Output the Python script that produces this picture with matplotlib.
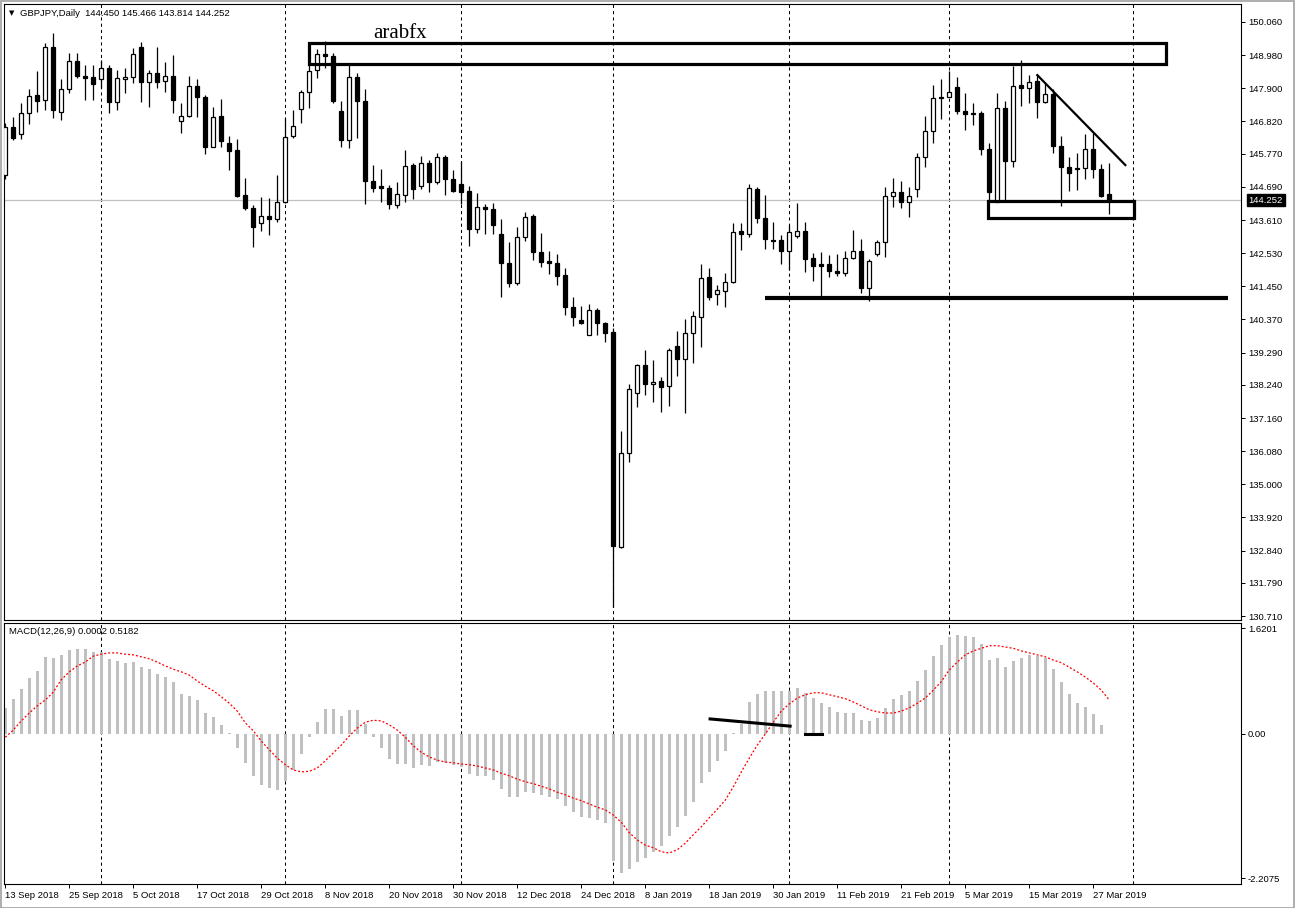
import matplotlib
matplotlib.use("Agg")
import matplotlib.pyplot as plt
from matplotlib.patches import Rectangle
from matplotlib.transforms import blended_transform_factory
import numpy as np

plt.rcParams['font.family'] = ['Liberation Sans', 'DejaVu Sans']

# ---------------- data ----------------
symbol = "GBPJPY,Daily"

opens = [145.08, 146.64, 146.41, 147.10, 147.68, 147.52, 149.25, 147.13, 147.88, 148.79,
         148.30, 148.27, 148.20, 148.56, 147.46, 148.20, 148.27, 149.25, 148.11, 148.40,
         148.14, 148.30, 146.84, 147.00, 147.98, 147.62, 145.99, 147.00, 146.12, 145.89,
         144.43, 144.00, 143.51, 143.74, 143.64, 144.20, 146.35, 147.23, 147.78, 148.50,
         149.02, 148.95, 147.16, 146.22, 148.27, 147.49, 144.88, 144.72, 144.65, 144.10,
         144.43, 145.40, 144.72, 145.47, 144.85, 145.66, 144.95, 144.78, 144.56, 143.32,
         144.04, 143.97, 143.16, 142.21, 141.56, 143.06, 143.74, 142.57, 142.28, 142.21,
         141.82, 140.78, 140.35, 139.87, 140.68, 140.25, 139.97, 132.96, 136.02, 137.98,
         138.89, 138.27, 138.37, 138.20, 139.51, 139.09, 139.94, 140.45, 141.76, 141.20,
         141.30, 141.59, 143.25, 143.16, 144.62, 143.67, 142.96, 142.96, 142.61, 143.09,
         143.25, 142.37, 142.18, 142.18, 141.95, 141.88, 142.37, 142.61, 141.40, 142.51,
         142.90, 144.39, 144.52, 144.20, 144.62, 145.66, 146.51, 147.62, 147.62, 147.94,
         147.16, 147.10, 147.10, 145.92, 144.20, 147.26, 145.53, 148.01, 147.91, 148.14,
         147.46, 147.71, 146.02, 145.34, 145.30, 145.30, 145.92, 145.27, 144.450]

highs = [146.77, 146.97, 147.42, 147.88, 148.47, 149.38, 149.70, 148.20, 149.05, 149.05,
         148.66, 148.66, 148.82, 148.66, 148.50, 148.56, 149.21, 149.41, 148.50, 149.25,
         148.76, 148.99, 147.42, 148.30, 148.20, 147.68, 147.29, 147.55, 146.35, 146.25,
         144.98, 144.10, 144.36, 144.33, 145.08, 146.93, 147.19, 147.85, 148.72, 149.18,
         149.44, 149.05, 147.49, 148.66, 148.40, 147.88, 145.40, 145.27, 144.75, 144.85,
         145.89, 145.47, 145.69, 145.57, 145.79, 145.73, 145.24, 145.53, 144.72, 144.49,
         144.13, 144.17, 143.64, 142.90, 143.38, 143.87, 143.80, 143.19, 142.61, 142.51,
         142.05, 141.10, 140.81, 140.88, 140.75, 140.29, 140.10, 136.74, 138.27, 138.92,
         139.38, 139.05, 138.50, 139.44, 139.99, 140.39, 140.65, 142.18, 142.05, 141.49,
         141.87, 143.51, 143.51, 144.78, 144.69, 144.43, 143.54, 143.12, 143.45, 144.17,
         143.54, 142.54, 142.57, 142.47, 142.51, 142.61, 143.29, 142.98, 142.34, 142.96,
         144.69, 144.98, 144.88, 144.69, 145.79, 147.00, 148.01, 148.20, 148.46, 148.27,
         147.75, 147.42, 147.16, 146.12, 147.75, 147.49, 148.63, 148.82, 148.33, 148.33,
         148.07, 147.88, 146.35, 145.66, 145.79, 146.41, 146.45, 145.43, 145.466]

lows = [144.95, 146.22, 146.25, 146.74, 147.13, 147.19, 146.93, 146.87, 147.75, 148.24,
        147.52, 147.52, 147.91, 147.10, 147.19, 147.75, 148.07, 147.46, 147.29, 147.91,
        147.78, 147.10, 146.44, 146.97, 146.97, 145.76, 145.99, 145.99, 145.24, 144.36,
        143.94, 142.73, 143.25, 143.12, 143.54, 144.17, 146.28, 146.77, 147.26, 148.24,
        148.56, 147.42, 145.99, 145.95, 146.28, 144.13, 144.52, 144.20, 143.97, 144.00,
        144.20, 144.30, 144.62, 144.52, 144.78, 144.43, 144.52, 144.13, 142.76, 143.19,
        143.16, 143.16, 141.10, 141.43, 141.50, 142.93, 142.31, 142.08, 141.84, 141.49,
        140.52, 140.16, 140.23, 139.87, 139.87, 139.64, 131.01, 132.93, 135.73, 137.52,
        137.91, 137.68, 137.36, 137.55, 138.53, 137.33, 138.96, 139.48, 141.01, 140.84,
        140.78, 141.56, 142.63, 143.06, 143.51, 142.67, 142.67, 142.18, 141.98, 143.03,
        141.92, 141.62, 141.10, 141.75, 141.79, 141.79, 142.34, 141.23, 140.97, 142.44,
        142.41, 144.04, 144.00, 143.71, 144.36, 145.34, 146.12, 146.90, 147.62, 147.06,
        146.54, 146.71, 145.73, 144.20, 144.20, 144.20, 145.34, 147.32, 147.42, 146.93,
        147.42, 145.79, 144.07, 144.56, 144.59, 144.95, 144.98, 144.36, 143.814]

closes = [146.64, 146.28, 147.10, 147.65, 147.49, 149.25, 147.19, 147.88, 148.79, 148.30,
          148.24, 148.04, 148.56, 147.46, 148.24, 148.27, 149.02, 148.11, 148.40, 148.11,
          148.30, 147.52, 147.00, 147.98, 147.62, 145.99, 146.97, 146.18, 145.86, 144.39,
          144.00, 143.38, 143.74, 143.64, 144.20, 146.32, 146.67, 147.78, 148.46, 149.02,
          148.95, 147.49, 146.22, 148.27, 147.49, 144.88, 144.65, 144.65, 144.13, 144.46,
          145.37, 144.62, 145.47, 144.85, 145.66, 144.95, 144.56, 144.52, 143.32, 144.04,
          143.97, 143.45, 142.21, 141.56, 143.06, 143.71, 142.57, 142.24, 142.21, 141.79,
          140.78, 140.45, 140.25, 140.68, 140.25, 139.92, 132.99, 136.02, 138.11, 138.89,
          138.27, 138.33, 138.17, 139.38, 139.09, 139.94, 140.49, 141.71, 141.10, 141.33,
          141.59, 143.22, 143.16, 144.65, 143.67, 142.98, 142.93, 142.61, 143.22, 143.25,
          142.34, 142.11, 142.11, 141.95, 141.88, 142.37, 142.61, 141.40, 142.28, 142.90,
          144.39, 144.52, 144.20, 144.39, 145.66, 146.51, 147.58, 147.58, 147.78, 147.16,
          147.06, 147.06, 145.92, 144.52, 147.26, 145.53, 147.98, 147.91, 148.11, 147.46,
          147.71, 146.02, 145.34, 145.14, 145.27, 145.92, 145.27, 144.39, 144.252]

macd_hist = [0.40, 0.54, 0.69, 0.86, 0.96, 1.18, 1.16, 1.21, 1.28, 1.30,
             1.30, 1.26, 1.25, 1.15, 1.12, 1.09, 1.10, 1.02, 0.99, 0.92,
             0.87, 0.79, 0.61, 0.58, 0.52, 0.32, 0.26, 0.14, 0.02, -0.22,
             -0.45, -0.65, -0.78, -0.82, -0.85, -0.72, -0.55, -0.31, -0.05, 0.18,
             0.38, 0.38, 0.28, 0.37, 0.37, 0.15, -0.05, -0.21, -0.38, -0.46,
             -0.46, -0.52, -0.47, -0.49, -0.43, -0.44, -0.47, -0.50, -0.61, -0.64,
             -0.65, -0.70, -0.84, -0.97, -0.96, -0.88, -0.90, -0.94, -0.96, -0.99,
             -1.10, -1.19, -1.27, -1.28, -1.31, -1.36, -1.94, -2.13, -2.07, -1.95,
             -1.89, -1.80, -1.72, -1.56, -1.42, -1.25, -1.04, -0.75, -0.58, -0.41,
             -0.26, 0.01, 0.16, 0.49, 0.61, 0.66, 0.66, 0.66, 0.66, 0.70,
             0.62, 0.55, 0.48, 0.41, 0.34, 0.32, 0.32, 0.21, 0.20, 0.24,
             0.40, 0.54, 0.60, 0.66, 0.81, 0.98, 1.19, 1.36, 1.48, 1.51,
             1.50, 1.49, 1.37, 1.13, 1.16, 1.02, 1.12, 1.16, 1.21, 1.19,
             1.16, 1.00, 0.80, 0.61, 0.48, 0.41, 0.31, 0.14, 0.0002]

macd_signal = [-0.05, 0.06, 0.20, 0.32, 0.43, 0.52, 0.64, 0.83, 0.95, 1.04,
               1.10, 1.19, 1.22, 1.24, 1.24, 1.22, 1.21, 1.18, 1.15, 1.10,
               1.04, 0.99, 0.95, 0.90, 0.81, 0.73, 0.66, 0.57, 0.47, 0.35,
               0.17, 0.05, -0.11, -0.24, -0.37, -0.47, -0.55, -0.58, -0.57, -0.52,
               -0.41, -0.29, -0.17, -0.03, 0.09, 0.18, 0.21, 0.20, 0.14, 0.06,
               -0.05, -0.18, -0.28, -0.35, -0.40, -0.43, -0.44, -0.46, -0.47, -0.49,
               -0.52, -0.55, -0.60, -0.64, -0.69, -0.73, -0.76, -0.80, -0.84, -0.89,
               -0.93, -0.98, -1.02, -1.07, -1.12, -1.16, -1.24, -1.35, -1.51, -1.62,
               -1.70, -1.74, -1.80, -1.82, -1.77, -1.67, -1.54, -1.42, -1.28, -1.15,
               -1.01, -0.81, -0.58, -0.37, -0.17, 0.00, 0.18, 0.35, 0.46, 0.55,
               0.60, 0.63, 0.63, 0.60, 0.57, 0.54, 0.49, 0.43, 0.37, 0.34,
               0.32, 0.32, 0.35, 0.40, 0.47, 0.55, 0.67, 0.80, 0.98, 1.10,
               1.21, 1.27, 1.31, 1.35, 1.35, 1.33, 1.31, 1.27, 1.24, 1.21,
               1.18, 1.13, 1.09, 1.02, 0.95, 0.87, 0.78, 0.67, 0.5182]

date_labels = ["13 Sep 2018", "25 Sep 2018", "5 Oct 2018", "17 Oct 2018", "29 Oct 2018",
               "8 Nov 2018", "20 Nov 2018", "30 Nov 2018", "12 Dec 2018", "24 Dec 2018",
               "8 Jan 2019", "18 Jan 2019", "30 Jan 2019", "11 Feb 2019", "21 Feb 2019",
               "5 Mar 2019", "15 Mar 2019", "27 Mar 2019"]
date_label_bars = list(range(0, 8 * len(date_labels), 8))

price_ticks = [150.060, 148.980, 147.900, 146.820, 145.770, 144.690, 143.610, 142.530,
               141.450, 140.370, 139.290, 138.240, 137.160, 136.080, 135.000, 133.920,
               132.840, 131.790, 130.710]
macd_ticks = [1.6201, 0.00, -2.2075]
macd_tick_labels = ["1.6201", "0.00", "-2.2075"]
month_grid_bars = [12, 35, 57, 76, 98, 118, 141]

# hand-drawn objects (data units: bar index, price)
resistance_box = (37.96, 145.1, 148.69, 149.38)
support_box = (122.8, 141.1, 143.68, 144.23)
support_line = (94.96, 152.85, 141.07)
trend_line = ((129.0, 148.33), (140.0, 145.40))
macd_line1 = ((88.1, 0.23), (98.1, 0.12))
macd_line2 = ((100.0, 0.0), (102.1, 0.0))
watermark = "arabfx"

# ---------------- figure ----------------
W, H = 1295, 908
fig = plt.figure(figsize=(W / 100, H / 100), dpi=100)
fig.patch.set_facecolor('white')

L, R = 4, 1241
ax = fig.add_axes([L / W, 1 - 620 / H, (R - L) / W, 616 / H])
ax2 = fig.add_axes([L / W, 1 - 884 / H, (R - L) / W, 261 / H])

x = np.arange(len(opens))
o = np.array(opens)
c = np.array(closes)
hi = np.array(highs)
lo = np.array(lows)
up = c >= o

xlim = (-0.16, 154.46)

# grid
for gx in month_grid_bars:
    for a in (ax, ax2):
        a.axvline(gx, color='black', lw=0.75, ls=(0, (3, 3)), zorder=0.5)

# last price line
last_price = closes[-1]
ax.axhline(last_price, color='#c0c0c0', lw=0.9, zorder=1)

# candles
ax.vlines(x, lo, hi, color='black', lw=0.9, zorder=3)
body_bottom = np.minimum(o, c)
body_h = np.maximum(np.abs(c - o), 0.02)
ax.bar(x, body_h, bottom=body_bottom, width=0.5,
       color=np.where(up, 'white', 'black'), edgecolor='black', linewidth=0.9, zorder=4)

# drawings
x0, x1, y0, y1 = resistance_box
ax.add_patch(Rectangle((x0, y0), x1 - x0, y1 - y0, fill=False, ec='black', lw=2.3, zorder=6))
x0, x1, y0, y1 = support_box
ax.add_patch(Rectangle((x0, y0), x1 - x0, y1 - y0, fill=False, ec='black', lw=2.3, zorder=6))
ax.plot([support_line[0], support_line[1]], [support_line[2], support_line[2]],
        color='black', lw=3.0, solid_capstyle='butt', zorder=6)
ax.plot([trend_line[0][0], trend_line[1][0]], [trend_line[0][1], trend_line[1][1]],
        color='black', lw=1.6, zorder=6)
ax.text(49.3, 149.54, watermark, family=['Liberation Serif', 'DejaVu Serif'], fontsize=15,
        ha='center', va='baseline', color='black', zorder=7)

ax.set_xlim(*xlim)
ax.set_ylim(130.581, 150.646)
ax.set_xticks([])
ax.yaxis.tick_right()
ax.set_yticks(price_ticks)
ax.set_yticklabels([f"{t:.3f}" for t in price_ticks])
ax.tick_params(axis='y', direction='out', length=3, width=0.7, pad=2, labelsize=6.8,
               colors='black')
for s in ax.spines.values():
    s.set_color('black'); s.set_linewidth(0.8)

trans = blended_transform_factory(ax.transAxes, ax.transData)
ax.text(1.0062, last_price, f"{last_price:.3f}", transform=trans, ha='left', va='center',
        color='white', fontsize=6.8, zorder=10, clip_on=False,
        bbox=dict(boxstyle='square,pad=0.18', fc='black', ec='black'))

# header
fig.text(9 / W, 1 - 13 / H, "▼", fontsize=5, ha='left', va='center', color='black',
         family=['DejaVu Sans'])
fig.text(20 / W, 1 - 13 / H,
         f"{symbol}  {opens[-1]:.3f} {highs[-1]:.3f} {lows[-1]:.3f} {closes[-1]:.3f}",
         fontsize=6.8, ha='left', va='center', color='black')

# MACD panel
ax2.bar(x, macd_hist, width=0.4, color='#c0c0c0', zorder=2)
ax2.plot(x, macd_signal, color='red', ls=(0, (1.6, 1.6)), lw=0.9, zorder=3)
ax2.plot([macd_line1[0][0], macd_line1[1][0]], [macd_line1[0][1], macd_line1[1][1]],
         color='black', lw=2.2, zorder=5)
ax2.plot([macd_line2[0][0], macd_line2[1][0]], [macd_line2[0][1], macd_line2[1][1]],
         color='black', lw=2.2, zorder=5)
ax2.set_xlim(*xlim)
ax2.set_ylim(-2.294, 1.697)
ax2.yaxis.tick_right()
ax2.set_yticks(macd_ticks)
ax2.set_yticklabels(macd_tick_labels)
ax2.tick_params(axis='y', direction='out', length=3, width=0.7, pad=2, labelsize=6.8,
                colors='black')
ax2.set_xticks(date_label_bars)
ax2.set_xticklabels(date_labels, ha='left')
ax2.tick_params(axis='x', direction='out', length=3, width=0.7, pad=2, labelsize=6.8,
                colors='black')
for s in ax2.spines.values():
    s.set_color('black'); s.set_linewidth(0.8)

fig.text(9 / W, 1 - 631 / H,
         f"MACD(12,26,9) {macd_hist[-1]:.4f} {macd_signal[-1]:.4f}",
         fontsize=6.8, ha='left', va='center', color='black')

# outer window frame
fig.add_artist(Rectangle((0.5 / W, 0.5 / H), 1 - 1.5 / W, 1 - 1.5 / H, transform=fig.transFigure,
                         fill=False, ec='#a0a0a0', lw=1.2))

fig.savefig("out.png", dpi=100, facecolor='white')
